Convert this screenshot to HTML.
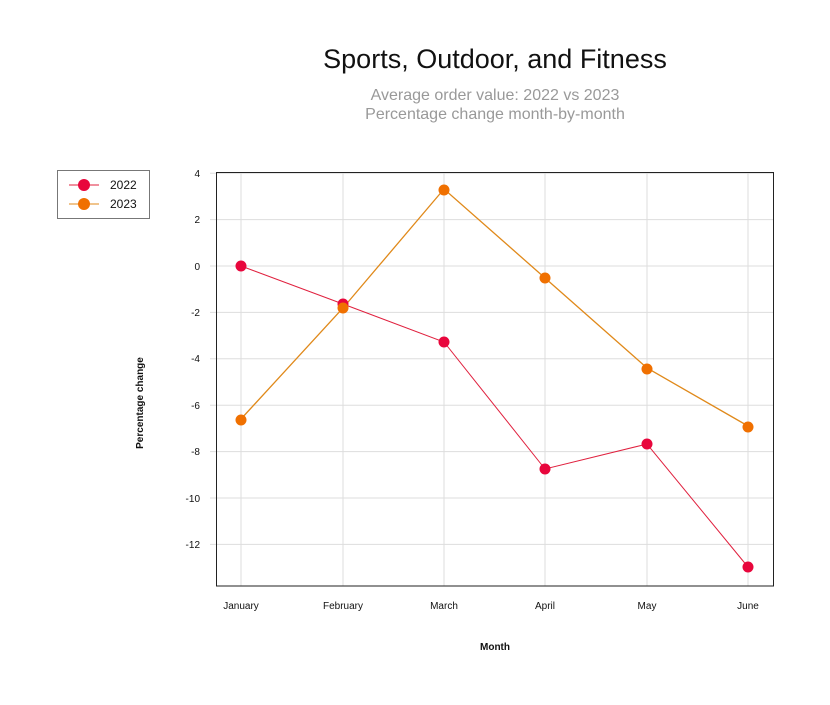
<!DOCTYPE html>
<html><head><meta charset="utf-8"><style>body{margin:0;background:#fff}</style></head>
<body>
<svg width="830" height="700" xmlns="http://www.w3.org/2000/svg" font-family="Liberation Sans, sans-serif">
<rect width="830" height="700" fill="#fff"/>
<text x="495" y="68" text-anchor="middle" font-size="27" fill="#111">Sports, Outdoor, and Fitness</text>
<text x="495" y="100" text-anchor="middle" font-size="16" fill="#999">Average order value: 2022 vs 2023</text>
<text x="495" y="119" text-anchor="middle" font-size="16" fill="#999">Percentage change month-by-month</text>
<g stroke="#ddd" stroke-width="1">
<line x1="241" y1="173" x2="241" y2="586"/><line x1="343" y1="173" x2="343" y2="586"/><line x1="444" y1="173" x2="444" y2="586"/><line x1="545" y1="173" x2="545" y2="586"/><line x1="647" y1="173" x2="647" y2="586"/><line x1="748" y1="173" x2="748" y2="586"/>
<line x1="210" y1="173.2" x2="774" y2="173.2"/><line x1="210" y1="219.6" x2="774" y2="219.6"/><line x1="210" y1="266" x2="774" y2="266"/><line x1="210" y1="312.4" x2="774" y2="312.4"/><line x1="210" y1="358.8" x2="774" y2="358.8"/><line x1="210" y1="405.2" x2="774" y2="405.2"/><line x1="210" y1="451.6" x2="774" y2="451.6"/><line x1="210" y1="498" x2="774" y2="498"/><line x1="210" y1="544.4" x2="774" y2="544.4"/>
</g>
<rect x="216.5" y="172.5" width="557" height="413.5" fill="none" stroke="#222" stroke-width="1"/>
<g font-size="10" fill="#111" text-anchor="end">
<text x="200" y="177">4</text><text x="200" y="223">2</text><text x="200" y="270">0</text><text x="200" y="316">-2</text><text x="200" y="362">-4</text><text x="200" y="409">-6</text><text x="200" y="455">-8</text><text x="200" y="502">-10</text><text x="200" y="548">-12</text>
</g>
<g font-size="10" fill="#111" text-anchor="middle">
<text x="241" y="609">January</text><text x="343" y="609">February</text><text x="444" y="609">March</text><text x="545" y="609">April</text><text x="647" y="609">May</text><text x="748" y="609">June</text>
</g>
<text x="495" y="650" text-anchor="middle" font-size="10" font-weight="bold" fill="#111">Month</text>
<text transform="translate(143,403) rotate(-90)" text-anchor="middle" font-size="10" font-weight="bold" fill="#111">Percentage change</text>
<polyline fill="none" stroke="#e0891a" stroke-width="1.3" points="241,419 343,308 444,189 545,278 647,368 748,426"/>
<polyline fill="none" stroke="#e0203e" stroke-width="1" points="241,266 343,304 444,342 545,469 647,444 748,567"/>
<g fill="#e8063c"><circle cx="241" cy="266" r="5.5"/><circle cx="343" cy="304" r="5.5"/><circle cx="444" cy="342" r="5.5"/><circle cx="545" cy="469" r="5.5"/><circle cx="647" cy="444" r="5.5"/><circle cx="748" cy="567" r="5.5"/></g>
<g fill="#f07000"><circle cx="241" cy="420" r="5.5"/><circle cx="343" cy="308" r="5.5"/><circle cx="444" cy="190" r="5.5"/><circle cx="545" cy="278" r="5.5"/><circle cx="647" cy="369" r="5.5"/><circle cx="748" cy="427" r="5.5"/></g>
<rect x="57.5" y="170.5" width="92" height="48" fill="#fff" stroke="#777"/>
<line x1="69" y1="185" x2="99" y2="185" stroke="#e0203e"/><circle cx="84" cy="185" r="6" fill="#e8063c"/>
<line x1="69" y1="204" x2="99" y2="204" stroke="#e0891a"/><circle cx="84" cy="204" r="6" fill="#f07000"/>
<text x="110" y="189" font-size="12" fill="#111">2022</text>
<text x="110" y="208" font-size="12" fill="#111">2023</text>
</svg>
</body></html>
